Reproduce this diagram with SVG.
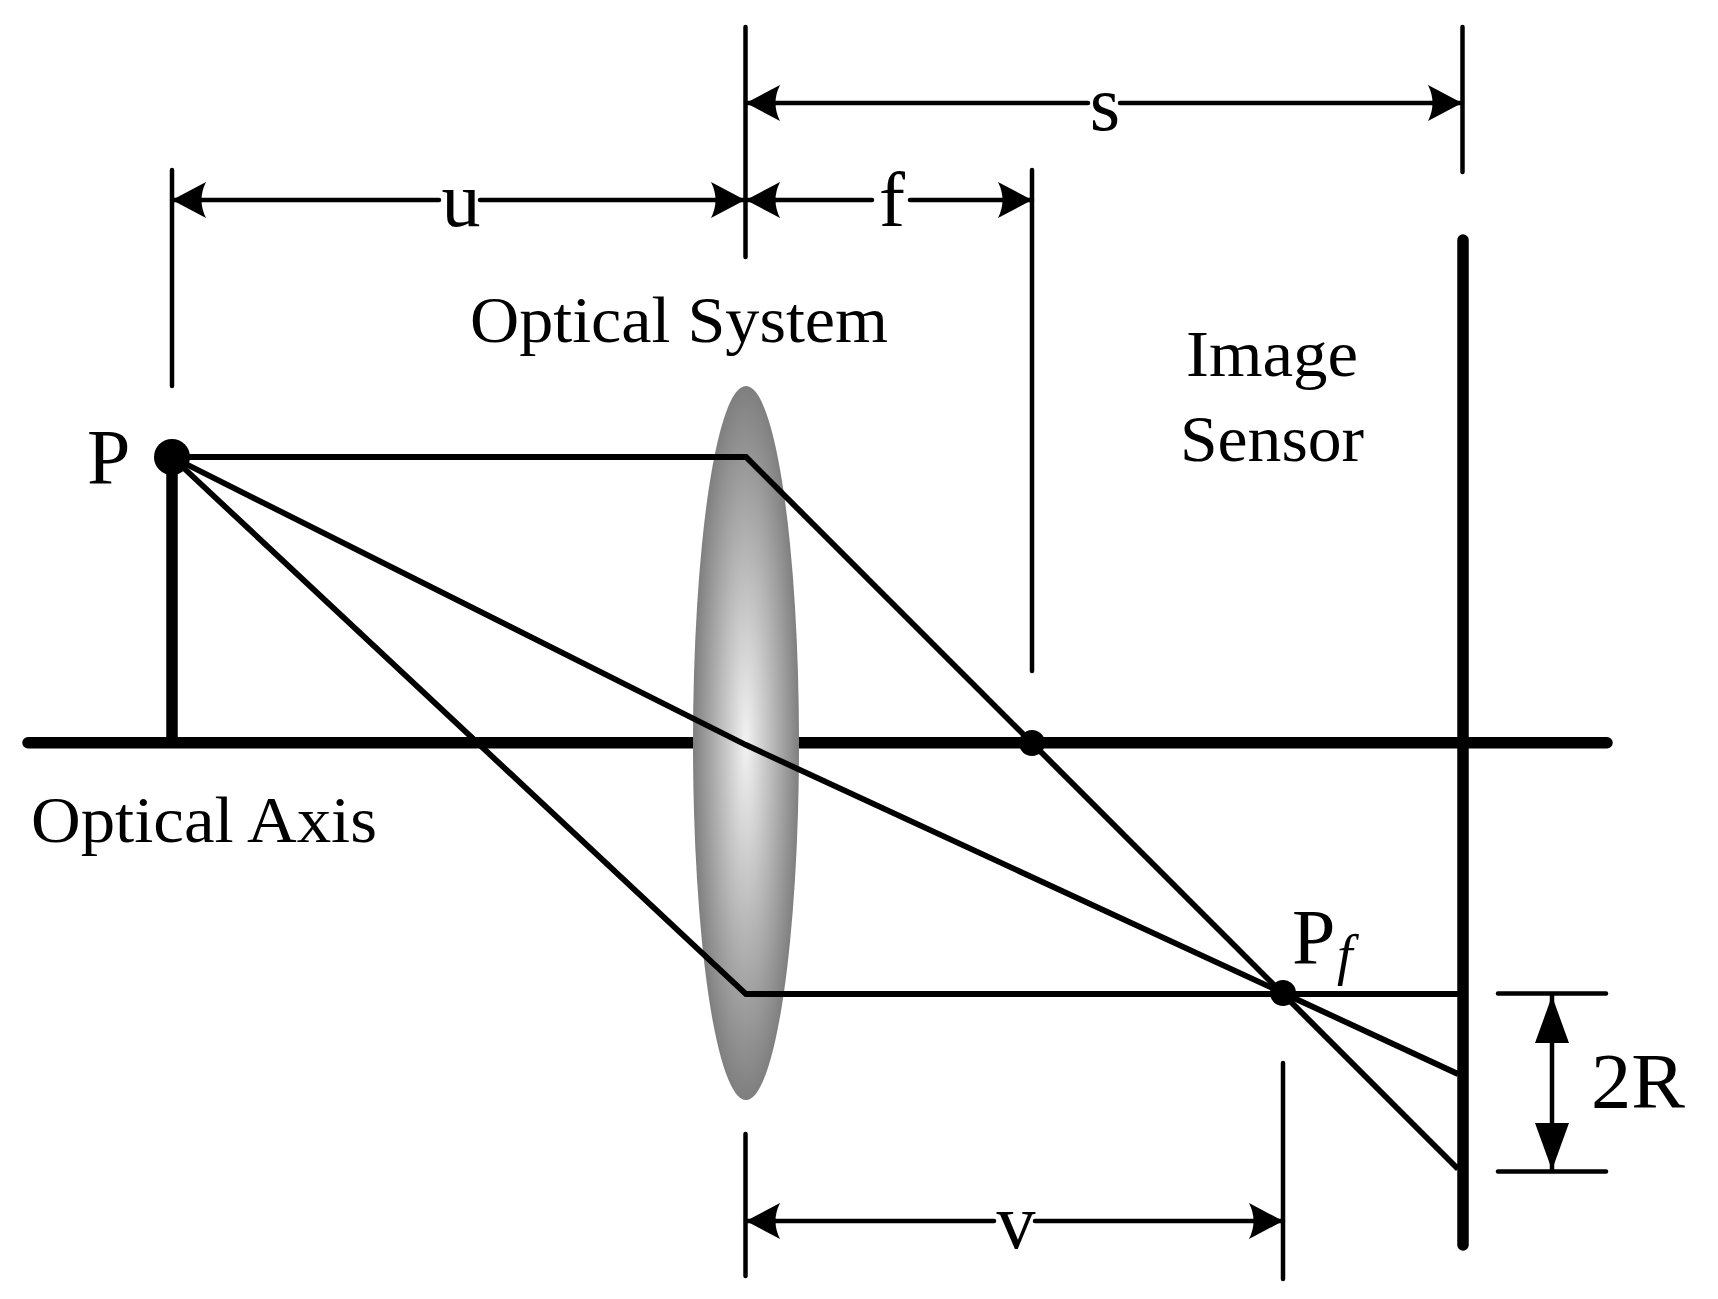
<svg xmlns="http://www.w3.org/2000/svg" width="1718" height="1299" viewBox="0 0 1718 1299">
<style>
text{font-family:"Liberation Serif","Times New Roman",serif;fill:#000}
.l{font-size:66px}.d{font-size:78px}
.t{stroke:#000;stroke-width:4.500;fill:none;stroke-linecap:round}
.r{stroke:#000;stroke-width:5.800;fill:none;stroke-linejoin:miter}
.b{stroke:#000;stroke-width:11.500;fill:none;stroke-linecap:round}
</style>
<defs>
<radialGradient id="lg" cx="0.5" cy="0.5" r="0.5"><stop offset="0" stop-color="#f2f2f2"/><stop offset="0.5" stop-color="#b9b9b9"/><stop offset="1" stop-color="#7f7f7f"/></radialGradient>
<marker id="a" markerUnits="userSpaceOnUse" markerWidth="36" markerHeight="38" refX="34" refY="19" orient="auto-start-reverse"><path d="M34 19L0 1Q9 19 0 37Z" fill="#000"/></marker>
<marker id="b" markerUnits="userSpaceOnUse" markerWidth="48" markerHeight="36" refX="47" refY="18" orient="auto-start-reverse"><path d="M47 18L0 1V35Z" fill="#000"/></marker>
</defs>
<g id="axis"><path class="b" d="M28 742.700H1607"/></g>
<g id="lens"><ellipse cx="746" cy="743" rx="53" ry="357" fill="url(#lg)"/></g>
<g id="connectors">
<path class="b" d="M1463 240V1245"/>
<path class="b" d="M172 457V738"/>
<path class="r" d="M172 457H746L1458 1169"/>
<path class="r" d="M172 457L746 745L1283 993L1458 1074"/>
<path class="r" d="M172 457L746 994H1460"/>
<g class="t">
<path d="M745.500 27V257"/><path d="M172 170V386"/><path d="M1032 170V671"/><path d="M1462.500 27V172"/><path d="M745.500 1134V1276"/><path d="M1283 1063V1279"/>
<path d="M1498 993.500H1606"/><path d="M1498 1171.500H1606"/>
<path d="M746 103H1088" marker-start="url(#a)"/><path d="M1120 103H1462" marker-end="url(#a)"/>
<path d="M172 200H439" marker-start="url(#a)"/><path d="M480 200H745" marker-end="url(#a)"/>
<path d="M746 200H872" marker-start="url(#a)"/><path d="M910 200H1032" marker-end="url(#a)"/>
<path d="M746 1221H994" marker-start="url(#a)"/><path d="M1035 1221H1283" marker-end="url(#a)"/>
<path d="M1552 996V1170" marker-start="url(#b)" marker-end="url(#b)"/>
</g>
</g>
<g id="dots"><circle cx="172" cy="457" r="18"/><circle cx="1032" cy="743" r="13"/><circle cx="1283" cy="993" r="13"/></g>
<g id="labels">
<text class="l" x="470" y="342" textLength="418" lengthAdjust="spacingAndGlyphs">Optical System</text>
<text class="l" x="1186" y="376" textLength="172" lengthAdjust="spacingAndGlyphs">Image</text>
<text class="l" x="1180" y="461" textLength="184" lengthAdjust="spacingAndGlyphs">Sensor</text>
<text class="l" x="31" y="842" textLength="346" lengthAdjust="spacingAndGlyphs">Optical Axis</text>
<text class="d" x="87" y="483">P</text>
<text class="d" x="1292" y="963">P</text>
<text x="1337" y="974" font-size="56" font-style="italic">f</text>
<text class="d" x="1591" y="1107" textLength="94" lengthAdjust="spacingAndGlyphs">2R</text>
<text class="d" x="1105" y="130" text-anchor="middle">s</text>
<text class="d" x="461" y="226" text-anchor="middle">u</text>
<text class="d" x="892" y="226" text-anchor="middle">f</text>
<text class="d" x="1016" y="1248" text-anchor="middle">v</text>
</g>
</svg>
